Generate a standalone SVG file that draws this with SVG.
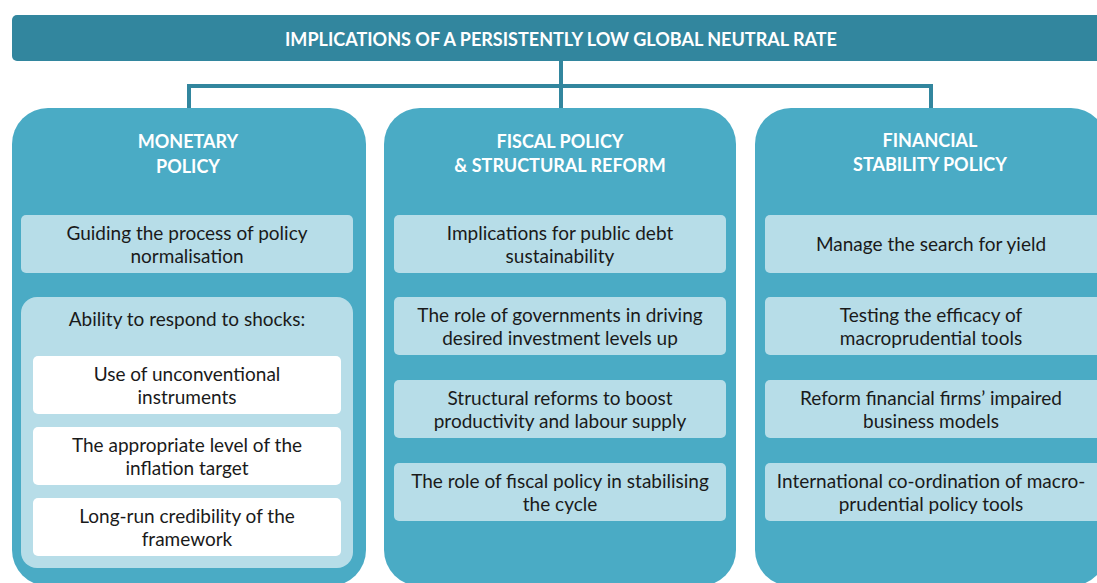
<svg xmlns="http://www.w3.org/2000/svg" width="1097" height="583" viewBox="0 0 1097 583">
<style>
.panel{fill:#4AABC5}
.box{fill:#B7DDE8}
.wbox{fill:#FFFFFF}
.title{font-family:Lato,"Open Sans","Liberation Sans",sans-serif;font-weight:bold;fill:#FFFFFF;font-size:18px;text-anchor:middle}
.t{font-family:Lato,"Open Sans","Liberation Sans",sans-serif;fill:#1A1A1A;font-size:19px;text-anchor:middle}
.conn{stroke:#32869E;stroke-width:4;fill:none}
</style>
<rect width="1097" height="583" fill="#FFFFFF"/>
<g id="connectors">
<path class="conn" d="M561 60 V110 M189 110 V86 H931 V110"/>
</g>
<g id="banner">
<rect x="12" y="15" width="1100" height="46" rx="5" fill="#32869E"/>
<text class="title" x="561" y="46" textLength="552" lengthAdjust="spacingAndGlyphs">IMPLICATIONS OF A PERSISTENTLY LOW GLOBAL NEUTRAL RATE</text>
</g>
<g id="monetary">
<rect class="panel" x="12" y="108" width="354" height="478" rx="36"/>
<text class="title" x="188" y="148">MONETARY</text>
<text class="title" x="188" y="173">POLICY</text>
<g id="m1"><rect class="box" x="21" y="215" width="332" height="58" rx="5"/>
<text class="t" x="187" y="240">Guiding the process of policy</text><text class="t" x="187" y="263">normalisation</text></g>
<g id="m2"><rect class="box" x="21" y="297" width="332" height="271" rx="16"/>
<text class="t" x="187" y="326">Ability to respond to shocks:</text>
<g id="m2a"><rect class="wbox" x="33" y="356" width="308" height="58" rx="5"/>
<text class="t" x="187" y="381">Use of unconventional</text><text class="t" x="187" y="404">instruments</text></g>
<g id="m2b"><rect class="wbox" x="33" y="427" width="308" height="58" rx="5"/>
<text class="t" x="187" y="452">The appropriate level of the</text><text class="t" x="187" y="475">inflation target</text></g>
<g id="m2c"><rect class="wbox" x="33" y="498" width="308" height="58" rx="5"/>
<text class="t" x="187" y="523">Long-run credibility of the</text><text class="t" x="187" y="546">framework</text></g>
</g>
</g>
<g id="fiscal">
<rect class="panel" x="384" y="108" width="352" height="478" rx="36"/>
<text class="title" x="560" y="148">FISCAL POLICY</text>
<text class="title" x="560" y="172">&amp; STRUCTURAL REFORM</text>
<g id="f1"><rect class="box" x="394" y="215" width="332" height="58" rx="5"/>
<text class="t" x="560" y="240">Implications for public debt</text><text class="t" x="560" y="263">sustainability</text></g>
<g id="f2"><rect class="box" x="394" y="297" width="332" height="58" rx="5"/>
<text class="t" x="560" y="322">The role of governments in driving</text><text class="t" x="560" y="345">desired investment levels up</text></g>
<g id="f3"><rect class="box" x="394" y="380" width="332" height="58" rx="5"/>
<text class="t" x="560" y="405">Structural reforms to boost</text><text class="t" x="560" y="428">productivity and labour supply</text></g>
<g id="f4"><rect class="box" x="394" y="463" width="332" height="58" rx="5"/>
<text class="t" x="560" y="488">The role of fiscal policy in stabilising</text><text class="t" x="560" y="511">the cycle</text></g>
</g>
<g id="financial">
<rect class="panel" x="755" y="108" width="352" height="478" rx="36"/>
<text class="title" x="930" y="147">FINANCIAL</text>
<text class="title" x="930" y="171">STABILITY POLICY</text>
<g id="s1"><rect class="box" x="765" y="215" width="340" height="58" rx="5"/>
<text class="t" x="931" y="251">Manage the search for yield</text></g>
<g id="s2"><rect class="box" x="765" y="297" width="340" height="58" rx="5"/>
<text class="t" x="931" y="322">Testing the efficacy of</text><text class="t" x="931" y="345">macroprudential tools</text></g>
<g id="s3"><rect class="box" x="765" y="380" width="340" height="58" rx="5"/>
<text class="t" x="931" y="405">Reform financial firms’ impaired</text><text class="t" x="931" y="428">business models</text></g>
<g id="s4"><rect class="box" x="765" y="463" width="340" height="58" rx="5"/>
<text class="t" x="931" y="488">International co-ordination of macro-</text><text class="t" x="931" y="511">prudential policy tools</text></g>
</g>
</svg>
